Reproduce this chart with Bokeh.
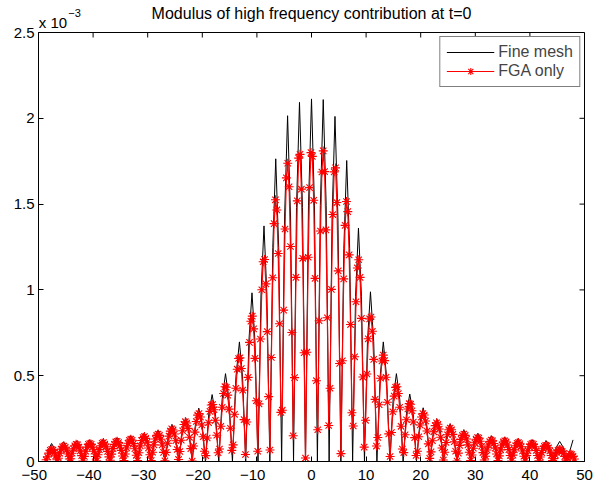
from bokeh.plotting import figure
from bokeh.models import Range1d, FixedTicker, LinearAxis, Legend, LegendItem
from bokeh.embed import file_html
from bokeh.resources import INLINE

FONT = "Liberation Sans"

# ---------------- data (values in units of 1e-3) ----------------
title_text = "Modulus of high frequency contribution at t=0"
exp_base = "x 10"
exp_power = "\u22123"
series_names = ["Fine mesh", "FGA only"]
x_ticks = [-50, -40, -30, -20, -10, 0, 10, 20, 30, 40, 50]
y_ticks = [0, 0.5, 1, 1.5, 2, 2.5]
y_tick_labels = ["0", "0.5", "1", "1.5", "2", "2.5"]

fine_x = [
    -48.6, -48.1, -47.6, -47.05, -46.5,
    -45.95, -45.4, -44.81, -44.22,
    -43.64, -43.05, -42.44, -41.83,
    -41.22, -40.6, -39.99, -39.38,
    -38.77, -38.15, -37.53, -36.9,
    -36.28, -35.65, -35.02, -34.38,
    -33.74, -33.1, -32.49, -31.88,
    -31.27, -30.65, -30.02, -29.38,
    -28.74, -28.1, -27.47, -26.83,
    -26.19, -25.55, -24.93, -24.3,
    -23.68, -23.05, -22.45, -21.85,
    -21.25, -20.65, -20.04, -19.43,
    -18.82, -18.2, -17.59, -16.98,
    -16.37, -15.75, -15.12, -14.48,
    -13.84, -13.2, -12.63, -12.05,
    -11.48, -10.9, -10.35, -9.8,
    -9.25, -8.7, -8.17, -7.63,
    -7.09, -6.55, -6.01, -5.47,
    -4.93, -4.38, -3.84, -3.29,
    -2.75, -2.2, -1.65, -1.1,
    -0.55, 0.0, 0.54, 1.08,
    1.62, 2.15, 2.69, 3.23,
    3.77, 4.3, 4.84, 5.38,
    5.92, 6.45, 6.99, 7.53,
    8.07, 8.6, 9.15, 9.7,
    10.25, 10.8, 11.39, 11.98,
    12.57, 13.15, 13.75, 14.35,
    14.95, 15.55, 16.17, 16.78,
    17.39, 18.0, 18.62, 19.23,
    19.84, 20.45, 21.08, 21.7,
    22.33, 22.95, 23.57, 24.18,
    24.79, 25.4, 26.03, 26.65,
    27.28, 27.9, 28.54, 29.18,
    29.82, 30.45, 31.08, 31.7,
    32.33, 32.95, 33.57, 34.18,
    34.79, 35.4, 36.02, 36.63,
    37.24, 37.85, 38.49, 39.13,
    39.77, 40.4, 41.04, 41.68,
    42.32, 42.95, 43.58, 44.2,
    44.83, 45.45, 46.1, 46.75,
    47.3, 47.9,
]
fine_y = [
    0.01, 0.074, 0.105, 0.074, 0.0,
    0.081, 0.115, 0.081, 0.0,
    0.085, 0.12, 0.085, 0.0,
    0.088, 0.125, 0.088, 0.0,
    0.092, 0.13, 0.092, 0.0,
    0.098, 0.138, 0.098, 0.0,
    0.106, 0.15, 0.106, 0.0,
    0.117, 0.165, 0.117, 0.0,
    0.129, 0.182, 0.129, 0.0,
    0.153, 0.216, 0.153, 0.0,
    0.18, 0.255, 0.18, 0.0,
    0.22, 0.311, 0.22, 0.0,
    0.276, 0.39, 0.276, 0.0,
    0.362, 0.512, 0.362, 0.0,
    0.493, 0.697, 0.493, 0.0,
    0.695, 0.983, 0.695, 0.0,
    0.971, 1.373, 0.971, 0.0,
    1.247, 1.764, 1.247, 0.0,
    1.425, 2.015, 1.425, 0.0,
    1.48, 2.093, 1.48, 0.0,
    1.494, 2.113, 1.494, 0.0,
    1.491, 2.109, 1.491, 0.0,
    1.422, 2.011, 1.422, 0.0,
    1.24, 1.754, 1.24, 0.0,
    0.962, 1.36, 0.962, 0.0,
    0.699, 0.989, 0.699, 0.0,
    0.493, 0.697, 0.493, 0.0,
    0.362, 0.512, 0.362, 0.0,
    0.278, 0.393, 0.278, 0.0,
    0.221, 0.313, 0.221, 0.0,
    0.177, 0.25, 0.177, 0.0,
    0.156, 0.22, 0.156, 0.0,
    0.131, 0.185, 0.131, 0.0,
    0.117, 0.166, 0.117, 0.0,
    0.106, 0.15, 0.106, 0.0,
    0.1, 0.142, 0.1, 0.0,
    0.095, 0.134, 0.095, 0.0,
    0.089, 0.126, 0.089, 0.0,
    0.086, 0.122, 0.086, 0.0,
    0.083, 0.117, 0.083, 0.0,
    0.06, 0.126,
]

fga_x = [
    -48.6, -48.35, -48.1, -47.85, -47.6, -47.35, -47.1, -46.85, -46.6,
    -46.35, -46.1, -45.85, -45.6, -45.35, -45.1, -44.85, -44.6, -44.35,
    -44.1, -43.85, -43.6, -43.35, -43.1, -42.85, -42.6, -42.35, -42.1, -41.85,
    -41.6, -41.35, -41.1, -40.85, -40.6, -40.35, -40.1, -39.85, -39.6,
    -39.35, -39.1, -38.85, -38.6, -38.35, -38.1, -37.85, -37.6, -37.35, -37.1,
    -36.85, -36.6, -36.35, -36.1, -35.85, -35.6, -35.35, -35.1, -34.85, -34.6,
    -34.35, -34.1, -33.85, -33.6, -33.35, -33.1, -32.85, -32.6, -32.35, -32.1,
    -31.85, -31.6, -31.35, -31.1, -30.85, -30.6, -30.35, -30.1, -29.85, -29.6,
    -29.35, -29.1, -28.85, -28.6, -28.35, -28.1, -27.85, -27.6, -27.35, -27.1, -26.85,
    -26.6, -26.35, -26.1, -25.85, -25.6, -25.35, -25.1, -24.85, -24.6, -24.35,
    -24.1, -23.85, -23.6, -23.35, -23.1, -22.85, -22.6, -22.35, -22.1, -21.85,
    -21.6, -21.35, -21.1, -20.85, -20.6, -20.35, -20.1, -19.85, -19.6,
    -19.35, -19.1, -18.85, -18.6, -18.35, -18.1, -17.85, -17.6, -17.35, -17.1,
    -16.85, -16.6, -16.35, -16.1, -15.85, -15.6, -15.35, -15.1, -14.85, -14.6,
    -14.35, -14.1, -13.85, -13.6, -13.35, -13.1, -12.85, -12.6, -12.35, -12.1,
    -11.85, -11.6, -11.35, -11.1, -10.85, -10.6, -10.35, -10.1, -9.85,
    -9.6, -9.35, -9.1, -8.85, -8.6, -8.35, -8.1, -7.85,
    -7.6, -7.35, -7.1, -6.85, -6.6, -6.35, -6.1, -5.85, -5.6,
    -5.35, -5.1, -4.85, -4.6, -4.35, -4.1, -3.85, -3.6, -3.35,
    -3.1, -2.85, -2.6, -2.35, -2.1, -1.85, -1.6, -1.35, -1.1,
    -0.85, -0.6, -0.35, -0.1, 0.15, 0.4, 0.65, 0.9,
    1.15, 1.4, 1.65, 1.9, 2.15, 2.4, 2.65, 2.9, 3.15,
    3.4, 3.65, 3.9, 4.15, 4.4, 4.65, 4.9, 5.15, 5.4,
    5.65, 5.9, 6.15, 6.4, 6.65, 6.9, 7.15, 7.4,
    7.65, 7.9, 8.15, 8.4, 8.65, 8.9, 9.15, 9.4, 9.65,
    9.9, 10.15, 10.4, 10.65, 10.9, 11.15, 11.4, 11.65, 11.9,
    12.15, 12.4, 12.65, 12.9, 13.15, 13.4, 13.65, 13.9, 14.15,
    14.4, 14.65, 14.9, 15.15, 15.4, 15.65, 15.9, 16.15, 16.4, 16.65,
    16.9, 17.15, 17.4, 17.65, 17.9, 18.15, 18.4, 18.65, 18.9, 19.15,
    19.4, 19.65, 19.9, 20.15, 20.4, 20.65, 20.9, 21.15, 21.4, 21.65,
    21.9, 22.15, 22.4, 22.65, 22.9, 23.15, 23.4, 23.65, 23.9, 24.15,
    24.4, 24.65, 24.9, 25.15, 25.4, 25.65, 25.9, 26.15, 26.4, 26.65,
    26.9, 27.15, 27.4, 27.65, 27.9, 28.15, 28.4, 28.65, 28.9, 29.15,
    29.4, 29.65, 29.9, 30.15, 30.4, 30.65, 30.9, 31.15, 31.4, 31.65,
    31.9, 32.15, 32.4, 32.65, 32.9, 33.15, 33.4, 33.65, 33.9, 34.15,
    34.4, 34.65, 34.9, 35.15, 35.4, 35.65, 35.9, 36.15, 36.4,
    36.65, 36.9, 37.15, 37.4, 37.65, 37.9, 38.15, 38.4, 38.65, 38.9,
    39.15, 39.4, 39.65, 39.9, 40.15, 40.4, 40.65, 40.9, 41.15, 41.4, 41.65,
    41.9, 42.15, 42.4, 42.65, 42.9, 43.15, 43.4, 43.65, 43.9, 44.15,
    44.4, 44.65, 44.9, 45.15, 45.4, 45.65, 45.9, 46.15, 46.4, 46.65,
    46.9, 47.15, 47.4, 47.65, 47.9, 48.15,
]
fga_y = [
    0.01, 0.027, 0.049, 0.065, 0.07, 0.066, 0.053, 0.033, 0.01,
    0.019, 0.049, 0.072, 0.086, 0.09, 0.083, 0.067, 0.044, 0.015,
    0.016, 0.048, 0.074, 0.092, 0.1, 0.097, 0.084, 0.062, 0.034, 0.003,
    0.03, 0.06, 0.084, 0.1, 0.105, 0.1, 0.084, 0.06, 0.029,
    0.004, 0.039, 0.069, 0.092, 0.106, 0.11, 0.102, 0.085, 0.059, 0.027,
    0.007, 0.043, 0.075, 0.1, 0.114, 0.118, 0.11, 0.092, 0.065, 0.032,
    0.005, 0.044, 0.079, 0.106, 0.124, 0.13, 0.124, 0.104, 0.074, 0.036,
    0.006, 0.051, 0.091, 0.122, 0.14, 0.145, 0.135, 0.113, 0.079, 0.039,
    0.006, 0.054, 0.097, 0.131, 0.152, 0.16, 0.152, 0.13, 0.096, 0.053, 0.004,
    0.053, 0.106, 0.148, 0.177, 0.19, 0.184, 0.16, 0.121, 0.07, 0.012,
    0.058, 0.124, 0.179, 0.216, 0.232, 0.224, 0.193, 0.141, 0.075, 0.002,
    0.09, 0.171, 0.233, 0.27, 0.28, 0.259, 0.213, 0.144, 0.06,
    0.034, 0.137, 0.226, 0.292, 0.329, 0.332, 0.302, 0.24, 0.153, 0.051,
    0.073, 0.205, 0.316, 0.396, 0.436, 0.433, 0.387, 0.305, 0.194, 0.065,
    0.097, 0.275, 0.427, 0.538, 0.6, 0.604, 0.542, 0.416, 0.244, 0.041,
    0.23, 0.49, 0.694, 0.817, 0.847, 0.773, 0.601, 0.354, 0.06,
    0.336, 0.714, 1.001, 1.164, 1.177, 1.035, 0.757, 0.378,
    0.067, 0.606, 1.071, 1.386, 1.525, 1.466, 1.212, 0.803, 0.286,
    0.299, 0.882, 1.355, 1.653, 1.738, 1.601, 1.253, 0.752, 0.15,
    0.489, 1.073, 1.519, 1.768, 1.79, 1.587, 1.184, 0.634, 0.02,
    0.637, 1.19, 1.596, 1.8, 1.778, 1.522, 1.067, 0.471,
    0.185, 0.82, 1.343, 1.687, 1.81, 1.689, 1.35, 0.838, 0.21,
    0.427, 1.003, 1.439, 1.688, 1.711, 1.509, 1.111, 0.571, 0.046,
    0.587, 1.064, 1.376, 1.515, 1.456, 1.204, 0.798, 0.284,
    0.207, 0.61, 0.931, 1.128, 1.176, 1.073, 0.834, 0.492, 0.084,
    0.24, 0.51, 0.715, 0.831, 0.842, 0.759, 0.595, 0.362, 0.09,
    0.14, 0.331, 0.485, 0.586, 0.62, 0.588, 0.491, 0.345, 0.161,
    0.029, 0.169, 0.29, 0.381, 0.432, 0.436, 0.396, 0.316, 0.205, 0.073,
    0.052, 0.156, 0.243, 0.306, 0.337, 0.334, 0.296, 0.23, 0.139, 0.035,
    0.06, 0.144, 0.213, 0.259, 0.28, 0.271, 0.236, 0.178, 0.103, 0.018,
    0.056, 0.121, 0.173, 0.209, 0.225, 0.217, 0.189, 0.141, 0.079, 0.009,
    0.054, 0.111, 0.156, 0.185, 0.195, 0.185, 0.158, 0.115, 0.06, 0.002,
    0.049, 0.094, 0.129, 0.152, 0.16, 0.152, 0.131, 0.097, 0.054, 0.006,
    0.038, 0.077, 0.109, 0.13, 0.14, 0.136, 0.118, 0.089, 0.052, 0.009,
    0.031, 0.067, 0.096, 0.116, 0.125, 0.121, 0.105, 0.078, 0.044, 0.005,
    0.033, 0.068, 0.096, 0.114, 0.12, 0.114, 0.096, 0.069, 0.035,
    0.003, 0.037, 0.068, 0.092, 0.106, 0.11, 0.103, 0.086, 0.061, 0.031,
    0.003, 0.035, 0.063, 0.085, 0.1, 0.105, 0.1, 0.086, 0.064, 0.035, 0.004,
    0.026, 0.052, 0.074, 0.088, 0.095, 0.092, 0.08, 0.061, 0.035, 0.006,
    0.017, 0.038, 0.054, 0.065, 0.07, 0.068, 0.06, 0.047, 0.029, 0.008,
    0.02, 0.035, 0.045, 0.04, 0.03, 0.015,
]

n_fine = min(len(fine_x), len(fine_y))
n_fga = min(len(fga_x), len(fga_y))

# ---------------- layout constants ----------------
W, H = 594, 487
B_LEFT, B_RIGHT, B_TOP, B_BOTTOM = 38, 10, 32, 26
X_MIN, X_MAX, Y_MIN, Y_MAX = -50, 50, 0, 2.5
TICK_PX = 5
frame_w = W - B_LEFT - B_RIGHT
frame_h = H - B_TOP - B_BOTTOM
px_x = (X_MAX - X_MIN) / frame_w   # data units per pixel
px_y = (Y_MAX - Y_MIN) / frame_h

p = figure(width=W, height=H, output_backend="svg", toolbar_location=None,
           title=None,
           x_range=Range1d(X_MIN, X_MAX), y_range=Range1d(Y_MIN, Y_MAX),
           min_border_left=B_LEFT, min_border_right=B_RIGHT,
           min_border_top=B_TOP, min_border_bottom=B_BOTTOM,
           background_fill_color="white", border_fill_color="white",
           outline_line_color="black", outline_line_width=1)
p.xgrid.visible = False
p.ygrid.visible = False

# negative labels: the digits sit centred on the tick, the minus hangs to the left
x_over = {t: ("\u2212" + str(abs(t)) + "\u00a0\u00a0" if t < 0 else str(t)) for t in x_ticks}
y_over = {t: lab for t, lab in zip(y_ticks, y_tick_labels)}

for ax, ticks, over in ((p.xaxis[0], x_ticks, x_over), (p.yaxis[0], y_ticks, y_over)):
    ax.ticker = FixedTicker(ticks=ticks)
    ax.major_tick_in = TICK_PX
    ax.major_tick_out = 0
    ax.major_tick_line_color = "black"
    ax.minor_tick_line_color = None
    ax.axis_line_color = "black"
    ax.major_label_text_font = FONT
    ax.major_label_text_font_size = "15px"
    ax.major_label_text_color = "black"
    ax.major_label_standoff = 4
    ax.major_label_overrides = over

# top text row: "x 10" as a label of a top axis, title as its axis label
exp_base_pos = X_MIN + 14.5 * px_x     # centre of "x 10", just right of the left edge
exp_power_pos = X_MIN + 36.0 * px_x    # centre of the superscript
top1 = LinearAxis(ticker=FixedTicker(ticks=[exp_base_pos]),
                  major_label_overrides={exp_base_pos: exp_base},
                  major_label_text_font=FONT, major_label_text_font_size="15px",
                  major_label_text_color="black", major_label_standoff=2,
                  major_tick_in=0, major_tick_out=0, major_tick_line_color=None,
                  minor_tick_line_color=None, axis_line_color=None,
                  axis_label=title_text, axis_label_text_font=FONT,
                  axis_label_text_font_size="16px", axis_label_text_font_style="normal",
                  axis_label_text_color="black", axis_label_standoff=-11)
p.add_layout(top1, "above")
top2 = LinearAxis(ticker=FixedTicker(ticks=[exp_power_pos]),
                  major_label_overrides={exp_power_pos: exp_power},
                  major_label_text_font=FONT, major_label_text_font_size="11px",
                  major_label_text_color="black", major_label_standoff=-15,
                  major_tick_in=0, major_tick_out=0, major_tick_line_color=None,
                  minor_tick_line_color=None, axis_line_color=None)
p.add_layout(top2, "above")

# inward ticks on the top and right edges of the box
p.segment(x0=x_ticks, y0=[Y_MAX] * len(x_ticks), x1=x_ticks,
          y1=[Y_MAX - TICK_PX * px_y] * len(x_ticks), line_color="black", line_width=1)
p.segment(x0=[X_MAX] * len(y_ticks), y0=y_ticks, x1=[X_MAX - TICK_PX * px_x] * len(y_ticks),
          y1=y_ticks, line_color="black", line_width=1)

r_fine = p.line(fine_x[:n_fine], fine_y[:n_fine], line_color="black", line_width=1)
r_fga_line = p.line(fga_x[:n_fga], fga_y[:n_fga], line_color="red", line_width=1.2)
r_fga_pts = p.scatter(fga_x[:n_fga], fga_y[:n_fga], marker="asterisk", size=9,
                      line_color="red", line_width=1.1)

legend = Legend(items=[LegendItem(label=series_names[0], renderers=[r_fine]),
                       LegendItem(label=series_names[1], renderers=[r_fga_line, r_fga_pts])],
                location="top_right", margin=4, padding=6, spacing=1,
                glyph_width=48, glyph_height=18, label_height=18, label_standoff=4,
                label_text_font=FONT, label_text_font_size="16px",
                border_line_color="black", border_line_width=1,
                background_fill_color="white", background_fill_alpha=1)
p.add_layout(legend)

open("out.html", "w").write(file_html(p, INLINE))
